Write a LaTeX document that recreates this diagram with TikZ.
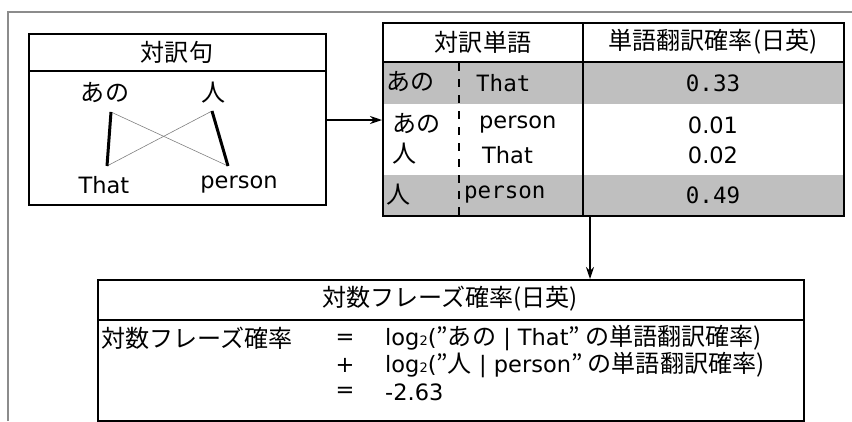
\documentclass[tikz,border=0pt]{standalone}
\usepackage{fontspec}
\setmainfont{DejaVu Sans}
\newfontfamily\jp{Noto Sans CJK JP}[Scale=1.07]
\newfontfamily\mono{DejaVu Sans Mono}
\usetikzlibrary{arrows.meta}
\begin{document}
\begin{tikzpicture}[x=1pt,y=-1pt,
  txt/.style={inner sep=0pt,font=\fontsize{22.5}{26}\selectfont},
  boxline/.style={draw=black,line width=1.5pt},
  arr/.style={line width=1.3pt,-{Stealth[length=12pt,width=8pt]}},
  thickl/.style={line width=3pt},
  thinl/.style={line width=0.6pt,draw=gray}]
\useasboundingbox (0,0) rectangle (852,421);
% outer frame
\draw[line width=1.5pt,draw=gray!90] (8,421) -- (8,12) -- (852,12);

% left box
\node (b1) [boxline,rectangle,minimum width=297pt,minimum height=171pt,anchor=north west,inner sep=0pt] at (28,33) {};
\draw[boxline] (28,71) -- (325,71);
\node (t1) [txt] at (177,52) {\jp 対訳句};
\node (ano) [txt] at (105,93) {\jp あの};
\node (hito) [txt] at (214,93) {\jp 人};
\node (that) [txt] at (104,185) {That};
\node (person) [txt] at (239,185) {person};
\coordinate (pa) at (111,112);
\coordinate (ph) at (212,111);
\coordinate (pt) at (107,166);
\coordinate (pp) at (228,166);
\draw[thinl] (pa) -- (pp);
\draw[thinl] (ph) -- (pt);
\draw[thickl] (pa) -- (pt);
\draw[thickl] (ph) -- (pp);

% table
\fill[gray!50] (382,62) rectangle (843,104);
\fill[gray!50] (382,175) rectangle (843,215);
\node (tab) [boxline,rectangle,minimum width=461pt,minimum height=193pt,anchor=north west,inner sep=0pt] at (382,22) {};
\draw[boxline] (382,62) -- (843,62);
\draw[boxline] (583,22) -- (583,215);
\draw[line width=1.5pt,dash pattern=on 8pt off 8pt] (459,63) -- (459,215);
\node (h1) [txt] at (483,42) {\jp 対訳単語};
\node (h2) [txt] at (713,42) {\jp 単語翻訳確率(日英)};
\node (r1a) [txt,anchor=west] at (386,82) {\jp あの};
\node (r1b) [txt,anchor=west] at (476,83) {\mono That};
\node (r1c) [txt] at (713,83) {\mono 0.33};
\node (r2a) [txt,anchor=west] at (392,124) {\jp あの};
\node (r2b) [txt,anchor=west] at (479,125) {person};
\node (r2c) [txt] at (713,125) {0.01};
\node (r3a) [txt,anchor=west] at (392,154) {\jp 人};
\node (r3b) [txt,anchor=west] at (482,155) {That};
\node (r3c) [txt] at (713,155) {0.02};
\node (r4a) [txt,anchor=west] at (386,195) {\jp 人};
\node (r4b) [txt,anchor=west] at (464,195) {\mono person};
\node (r4c) [txt] at (713,195) {\mono 0.49};

% bottom box
\node (b3) [boxline,rectangle,minimum width=706pt,minimum height=141pt,anchor=north west,inner sep=0pt] at (97,279) {};
\draw[boxline] (97,320) -- (803,320);
\node (t3) [txt] at (450,299) {\jp 対数フレーズ確率(日英)};
\node (l1) [txt,anchor=west] at (101,338) {\jp 対数フレーズ確率};
\node (e1) [txt] at (345,339) {=};
\node (e2) [txt] at (345,365) {+};
\node (e3) [txt] at (345,392) {=};
\node (x1) [txt,anchor=west] at (385,338) {log{\fontsize{13}{13}\selectfont 2}(\jp ”あの\rmfamily\ | That\jp ” の単語翻訳確率)};
\node (x2) [txt,anchor=west] at (385,365) {log{\fontsize{13}{13}\selectfont 2}(\jp ”人\rmfamily\ | person\jp ” の単語翻訳確率)};
\node (x3) [txt,anchor=west] at (385,392) {-2.63};

% connectors
\draw[arr] (b1.east |- 0,120) -- (tab.west |- 0,120);
\draw[arr] (tab.south -| 590,0) -- (b3.north -| 590,0);
\end{tikzpicture}
\end{document}
